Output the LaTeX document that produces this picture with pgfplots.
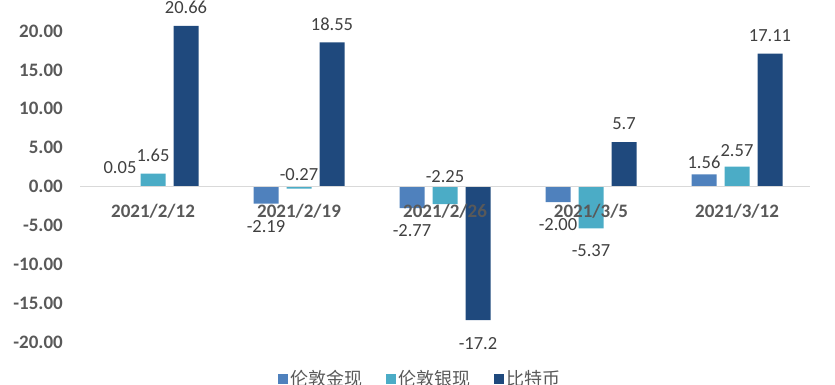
\documentclass[border=0pt]{standalone}
\usepackage{pgfplots}
\usepackage{pgfplotstable}
\pgfplotsset{compat=1.18}
\usepackage{fontspec}
\setmainfont{Carlito}
\newfontfamily\cjk{Noto Sans CJK SC}
\definecolor{cgold}{HTML}{4F81BD}
\definecolor{csilver}{HTML}{4BACC6}
\definecolor{cbtc}{HTML}{1F497D}
\definecolor{tickgray}{HTML}{595959}
\definecolor{lblgray}{HTML}{404040}
\definecolor{zerogray}{HTML}{D9D9D9}

% values and label heights (data units)
\pgfplotstableread{
x gold  goldly silver silverly btc   btcly
0 0.05  2.45   1.65   4.00     20.66 23.10
1 -2.19 -5.15  -0.27  1.60     18.55 20.85
2 -2.77 -5.66  -2.25  1.22     -17.2 -20.20
3 -2.00 -4.90  -5.37  -8.24    5.7   8.10
4 1.56  3.15   2.57   4.63     17.11 19.40
}\data

\begin{document}
\begin{tikzpicture}
\begin{axis}[
  name=ax,
  set layers,
  scale only axis,
  width=730bp, height=342bp,
  xmin=-0.5, xmax=4.5,
  ymin=-20, ymax=24,
  clip=false,
  axis x line=middle,
  axis y line=left,
  x axis line style={-, draw=zerogray, line width=1.2bp},
  y axis line style={draw=none},
  xtick={0,1,2,3,4},
  xticklabels={2021/2/12,2021/2/19,2021/2/26,2021/3/5,2021/3/12},
  ytick={-20,-15,...,20},
  major tick length=0pt,
  tick style={draw=none},
  /pgf/number format/assume math mode=true,
  yticklabel style={/pgf/number format/.cd, fixed, fixed zerofill, precision=2, /tikz/.cd,
     font=\fontsize{19bp}{22bp}\selectfont\bfseries, text=tickgray, inner sep=0pt, anchor=east, xshift=-17bp},
  xticklabel style={font=\fontsize{19bp}{22bp}\selectfont\bfseries, text=tickgray, inner sep=0pt, anchor=center, yshift=-25bp},
  nodes near coords style={font=\fontsize{18.5bp}{22bp}\selectfont, text=lblgray, inner sep=0pt, anchor=center},
  legend style={at={(0.466,-0.108)}, anchor=center, draw=none, fill=none,
     font=\cjk\fontsize{18bp}{22bp}\selectfont, text=tickgray, legend columns=3,
     /tikz/every even column/.append style={column sep=22bp}, inner sep=0pt},
  legend image code/.code={\fill[#1] (0bp,-5bp) rectangle (10bp,5bp);},
  legend cell align=left,
]
\addplot[ybar, bar width=25bp, bar shift=-33bp, fill=cgold, draw=none, on layer=axis background] table[x=x, y=gold]{\data};
\addlegendentry{伦敦金现}
\addplot[ybar, bar width=25bp, bar shift=0bp, fill=csilver, draw=none, on layer=axis background] table[x=x, y=silver]{\data};
\addlegendentry{伦敦银现}
\addplot[ybar, bar width=25bp, bar shift=33bp, fill=cbtc, draw=none, on layer=axis background] table[x=x, y=btc]{\data};
\addlegendentry{比特币}
% data labels
\addplot[draw=none, forget plot, nodes near coords, point meta=explicit symbolic]
  table[x expr=\thisrow{x}-0.226, y=goldly, meta=gold]{\data};
\addplot[draw=none, forget plot, nodes near coords, point meta=explicit symbolic]
  table[x=x, y=silverly, meta=silver]{\data};
\addplot[draw=none, forget plot, nodes near coords, point meta=explicit symbolic]
  table[x expr=\thisrow{x}+0.226, y=btcly, meta=btc]{\data};
\end{axis}
\pgfresetboundingbox
\path (ax.south west) ++(-80bp,-43bp) rectangle ++(835bp,385bp);
\end{tikzpicture}
\end{document}
